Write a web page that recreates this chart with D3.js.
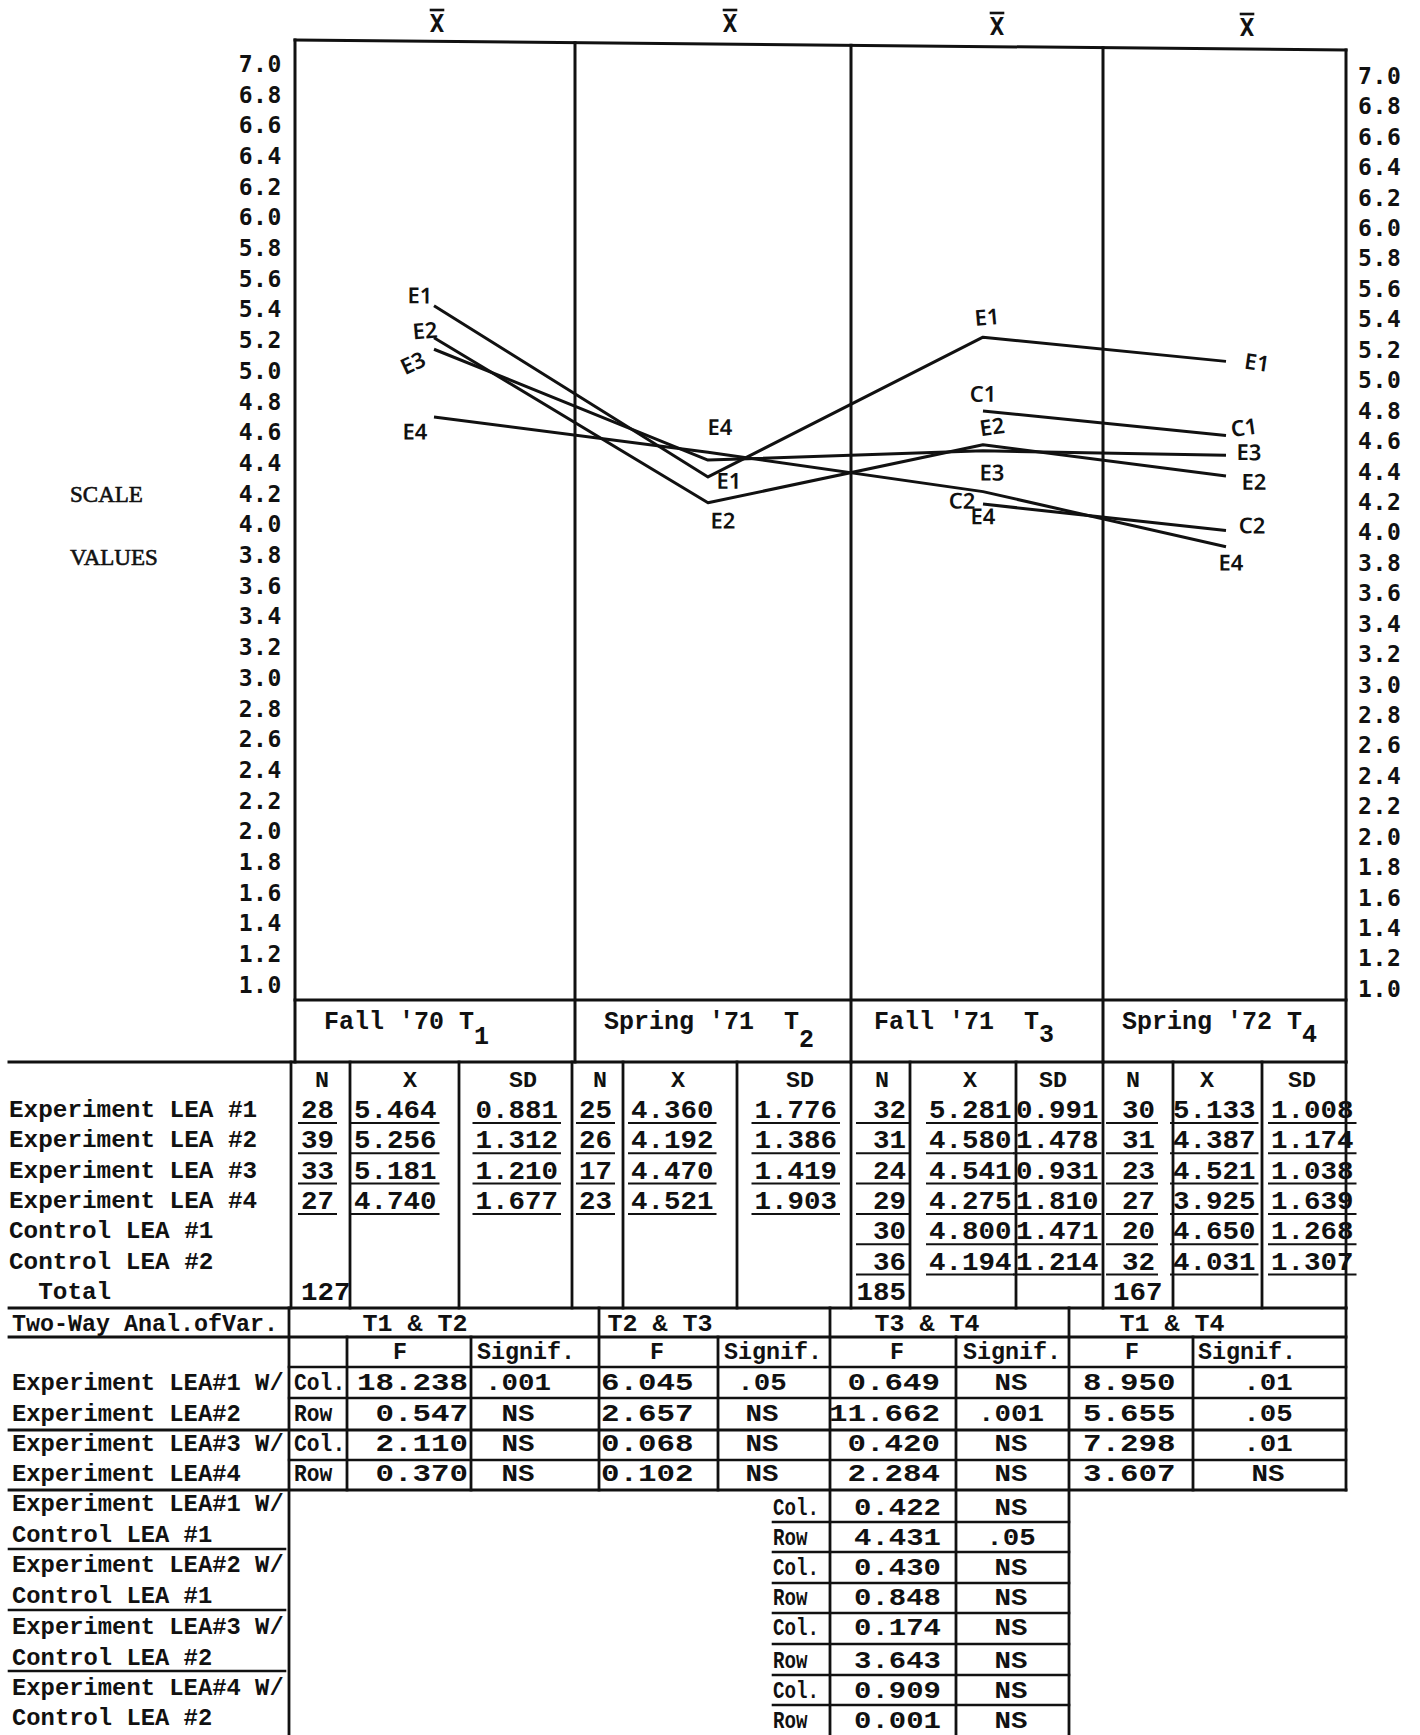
<!DOCTYPE html>
<html>
<head>
<meta charset="utf-8">
<script src="https://cdn.jsdelivr.net/npm/d3@7"></script>
<style>
  html, body { margin: 0; padding: 0; background: #fff; }
  svg { display: block; }
</style>
</head>
<body>
<svg id="chart" width="1420" height="1735"></svg>
<script>
// ---------------- data ----------------
const periods = ["T1", "T2", "T3", "T4"];
const periodNames = ["Fall '70 T", "Spring '71  T", "Fall '71  T", "Spring '72 T"];
const periodSubscripts = ["1", "2", "3", "4"];

const groupLabels = ["Experiment LEA #1", "Experiment LEA #2", "Experiment LEA #3",
                     "Experiment LEA #4", "Control LEA #1", "Control LEA #2"];
const seriesCodes = ["E1", "E2", "E3", "E4", "C1", "C2"];

// N, mean and SD per group (rows) and testing period (columns)
const nValues = [
  [28, 25, 32, 30],
  [39, 26, 31, 31],
  [33, 17, 24, 23],
  [27, 23, 29, 27],
  [null, null, 30, 20],
  [null, null, 36, 32]
];
const meanValues = [
  [5.464, 4.360, 5.281, 5.133],
  [5.256, 4.192, 4.580, 4.387],
  [5.181, 4.470, 4.541, 4.521],
  [4.740, 4.521, 4.275, 3.925],
  [null, null, 4.800, 4.650],
  [null, null, 4.194, 4.031]
];
const sdValues = [
  [0.881, 1.776, 0.991, 1.008],
  [1.312, 1.386, 1.478, 1.174],
  [1.210, 1.419, 0.931, 1.038],
  [1.677, 1.903, 1.810, 1.639],
  [null, null, 1.471, 1.268],
  [null, null, 1.214, 1.307]
];
const totalN = [127, null, 185, 167];
const statHeaders = ["N", "X", "SD"];

const scaleTicks = [7.0, 6.8, 6.6, 6.4, 6.2, 6.0, 5.8, 5.6, 5.4, 5.2, 5.0, 4.8, 4.6, 4.4, 4.2,
                    4.0, 3.8, 3.6, 3.4, 3.2, 3.0, 2.8, 2.6, 2.4, 2.2, 2.0, 1.8, 1.6, 1.4, 1.2, 1.0];

// two-way analysis of variance between testing periods
const anovaPairs = ["T1 & T2", "T2 & T3", "T3 & T4", "T1 & T4"];
const anovaRowLabels = ["Experiment LEA#1 W/", "Experiment LEA#2", "Experiment LEA#3 W/", "Experiment LEA#4"];
const anovaEffects = ["Col.", "Row", "Col.", "Row"];
const anovaF = [
  [18.238, 6.045, 0.649, 8.950],
  [0.547, 2.657, 11.662, 5.655],
  [2.110, 0.068, 0.420, 7.298],
  [0.370, 0.102, 2.284, 3.607]
];
const anovaSig = [
  [".001", ".05", "NS", ".01"],
  ["NS", "NS", ".001", ".05"],
  ["NS", "NS", "NS", ".01"],
  ["NS", "NS", "NS", "NS"]
];

// experiment vs control comparisons (T3 & T4)
const controlRowLabels = ["Experiment LEA#1 W/", "Control LEA #1", "Experiment LEA#2 W/", "Control LEA #1",
                          "Experiment LEA#3 W/", "Control LEA #2", "Experiment LEA#4 W/", "Control LEA #2"];
const controlEffects = ["Col.", "Row", "Col.", "Row", "Col.", "Row", "Col.", "Row"];
const controlF = [0.422, 4.431, 0.430, 0.848, 0.174, 3.643, 0.909, 0.001];
const controlSig = ["NS", ".05", "NS", "NS", "NS", "NS", "NS", "NS"];

// ---------------- drawing ----------------
const INK = "#111";
const MONO = "'Liberation Mono', 'DejaVu Sans Mono', monospace";
const GOTHIC = "'DejaVu Sans Mono', monospace";
const svg = d3.select("#chart");
svg.append("rect").attr("width", 1420).attr("height", 1735).attr("fill", "#fff");

const f3 = d3.format(".3f");
const f1 = d3.format(".1f");

// typewriter text with a fixed character pitch
function typed(g, str, x, y, o) {
  const pitch = o.pitch, w = str.length * pitch;
  const a = o.anchor || "start";
  const x0 = a === "end" ? x - w : a === "middle" ? x - w / 2 : x;
  g.append("text")
    .attr("x", x0).attr("y", y)
    .attr("font-family", o.family || MONO)
    .attr("font-size", o.size)
    .attr("font-weight", o.weight || "bold")
    .attr("fill", INK)
    .attr("xml:space", "preserve")
    .style("white-space", "pre")
    .attr("textLength", w)
    .attr("lengthAdjust", "spacingAndGlyphs")
    .text(str);
  return { x0, w };
}
function rule(g, x1, y1, x2, y2, w) {
  g.append("line").attr("x1", x1).attr("y1", y1).attr("x2", x2).attr("y2", y2)
    .attr("stroke", INK).attr("stroke-width", w || 2.6).attr("stroke-linecap", "square");
}

// scales
const y = d3.scaleLinear().domain([1, 7]).range([990, 69]);
const yRight = d3.scaleLinear().domain([1, 7]).range([989, 76]);
const x = d3.scaleOrdinal().domain(periods).range([434, 708, 983, 1226]);

// ---- plot frame ----
const frame = svg.append("g");
const frameX = [295, 575, 851, 1103, 1346];
const topAt = xx => 40 + (xx - 295) * 10 / 1051;
rule(frame, 295, topAt(295), 1346, topAt(1346), 3);
frameX.forEach(fx => rule(frame, fx, topAt(fx), fx, 1062, 3));
rule(frame, 295, 1000, 1346, 1000, 3);
rule(frame, 9, 1062, 1346, 1062, 3);

// X-bar headings over each period
const xbarPos = [[437, 32], [730, 32], [997, 35], [1247, 36]];
periods.forEach((p, i) => {
  const [bx, by] = xbarPos[i];
  svg.append("text").attr("x", bx).attr("y", by)
    .attr("text-anchor", "middle").attr("font-family", GOTHIC)
    .attr("font-weight", "bold").attr("font-size", 24).attr("fill", INK).text("X");
  rule(svg, bx - 6, by - 22, bx + 6, by - 22, 2.6);
});

// ---- scale value axes ----
const leftAxis = svg.append("g").attr("transform", "translate(282,-5)")
  .call(d3.axisLeft(y).tickValues(scaleTicks).tickSize(0).tickPadding(0).tickFormat(f1));
const rightAxis = svg.append("g").attr("transform", "translate(1358,0)")
  .call(d3.axisRight(yRight).tickValues(scaleTicks).tickSize(0).tickPadding(0).tickFormat(f1));
[leftAxis, rightAxis].forEach(ax => {
  ax.select(".domain").remove();
  ax.selectAll("text").attr("font-family", GOTHIC).attr("font-weight", "bold")
    .attr("font-size", 23).attr("letter-spacing", 0.6).attr("fill", INK);
});

svg.append("text").attr("x", 70).attr("y", 502).attr("font-family", "'Liberation Serif', serif")
  .attr("font-size", 23).attr("fill", INK).attr("stroke", INK).attr("stroke-width", 0.6).text("SCALE");
svg.append("text").attr("x", 70).attr("y", 565).attr("font-family", "'Liberation Serif', serif")
  .attr("font-size", 23).attr("fill", INK).attr("stroke", INK).attr("stroke-width", 0.6).text("VALUES");

// ---- group mean lines (page sits at a slight slant) ----
const slant = 0.006;
const plot = svg.append("g").attr("transform", `matrix(1,${slant},0,1,0,${-slant * 260})`);
const line = d3.line().defined(d => d.v != null).x(d => x(d.p)).y(d => y(d.v));

seriesCodes.forEach((code, i) => {
  const pts = periods.map((p, j) => ({ p, v: meanValues[i][j] }));
  plot.append("path").attr("d", line(pts)).attr("fill", "none")
    .attr("stroke", INK).attr("stroke-width", 3).attr("stroke-linejoin", "round");
});

// hand-lettered tags beside the points: [series, period index, dx, dy, rotation]
const tagNudges = [
  ["E1", 0, -14, -10, 0], ["E2", 0, -9, -7, -5], ["E3", 0, -21, 14, -25], ["E4", 0, -19, 15, 0],
  ["E4", 1, 12, -25, 0], ["E1", 1, 21, 4, 0], ["E2", 1, 15, 18, 0],
  ["E1", 2, 4, -20, -5], ["C1", 2, 0, -17, 0], ["E2", 2, 9, -18, -8], ["E3", 2, 9, 22, 0],
  ["C2", 2, -21, -3, 0], ["E4", 2, 0, 25, 0],
  ["E1", 3, 31, 1, 8], ["C1", 3, 18, -8, -8], ["E3", 3, 23, -3, 0], ["E2", 3, 28, 6, 0],
  ["C2", 3, 26, -5, 0], ["E4", 3, 5, 16, 0]
];
tagNudges.forEach(([code, j, dx, dy, rot]) => {
  const i = seriesCodes.indexOf(code);
  const px = x(periods[j]) + dx, py = y(meanValues[i][j]) + dy;
  plot.append("text").attr("transform", `translate(${px},${py}) rotate(${rot})`)
    .attr("text-anchor", "middle").attr("dy", "0.35em")
    .attr("font-family", "'Noto Sans', 'DejaVu Sans', sans-serif").attr("font-weight", 600)
    .attr("font-size", 22).attr("fill", INK).text(code);
});

// ---- period label row ----
const periodLabelStart = [324, 604, 874, 1122];
const subDrop = [15, 18, 13, 13];
periods.forEach((p, i) => {
  const r = typed(svg, periodNames[i], periodLabelStart[i], 1029, { size: 25, pitch: 15 });
  typed(svg, periodSubscripts[i], r.x0 + r.w, 1029 + subDrop[i], { size: 25, pitch: 15 });
});

// ---- N / mean / SD table ----
const table = svg.append("g");
const tableCols = [291, 350, 459, 572, 623, 737, 851, 910, 1016, 1103, 1173, 1262, 1346];
tableCols.forEach(cx => rule(table, cx, 1062, cx, 1308, 2.8));

const headerCenters = [[322, 410, 523], [600, 678, 800], [882, 970, 1053], [1133, 1207, 1302]];
periods.forEach((p, i) => statHeaders.forEach((h, k) =>
  typed(table, h, headerCenters[i][k], 1087, { size: 22, pitch: 14, anchor: "middle" })));

const cellLayout = [
  { n: [301, "start", 0], m: [354, "start"], s: [558, "end"], t: [301, "start"] },
  { n: [579, "start", 0], m: [631, "start"], s: [837, "end"], t: [579, "start"] },
  { n: [906, "end", 14], m: [929, "start"], s: [1016, "start"], t: [906, "end"] },
  { n: [1122, "start", 13], m: [1173, "start"], s: [1271, "start"], t: [1113, "start"] }
];
const rowBase = i => 1117 + i * 30.3;
function underline(g, r, y0, extraLeft) {
  rule(g, r.x0 - 2 - (extraLeft || 0), y0 + 5, r.x0 + r.w + 2, y0 + 5, 2);
}
groupLabels.forEach((lab, i) => {
  typed(table, lab, 9, rowBase(i), { size: 24, pitch: 14.6 });
  periods.forEach((p, j) => {
    const L = cellLayout[j];
    if (nValues[i][j] == null) return;
    const rn = typed(table, String(nValues[i][j]), L.n[0], rowBase(i) + 1, { size: 26, pitch: 16.5, anchor: L.n[1] });
    underline(table, rn, rowBase(i) + 1, L.n[2]);
    const rm = typed(table, f3(meanValues[i][j]), L.m[0], rowBase(i) + 1, { size: 26, pitch: 16.5, anchor: L.m[1] });
    underline(table, rm, rowBase(i) + 1);
    const rs = typed(table, f3(sdValues[i][j]), L.s[0], rowBase(i) + 1, { size: 26, pitch: 16.5, anchor: L.s[1] });
    underline(table, rs, rowBase(i) + 1);
  });
});
typed(table, "  Total", 9, rowBase(6), { size: 24, pitch: 14.6 });
totalN.forEach((t, j) => {
  if (t == null) return;
  const L = cellLayout[j];
  typed(table, String(t), L.t[0], rowBase(6) + 1, { size: 26, pitch: 16.5, anchor: L.t[1] });
});

// ---- two-way analysis of variance ----
const anova = svg.append("g");
rule(anova, 9, 1308, 1346, 1308, 2.8);
rule(anova, 9, 1337, 1346, 1337, 2.8);
rule(anova, 289, 1367, 1346, 1367, 2.6);
rule(anova, 289, 1398, 1346, 1398, 2.4);
rule(anova, 9, 1430, 1346, 1430, 2.8);
rule(anova, 289, 1460, 1346, 1460, 2.4);
rule(anova, 9, 1490, 1346, 1490, 2.8);

[[289, 1308, 1735], [347, 1337, 1490], [471, 1337, 1490], [599, 1308, 1490], [718, 1337, 1490],
 [830, 1308, 1735], [956, 1337, 1735], [1069, 1308, 1735], [1193, 1337, 1490], [1346, 1308, 1490]]
  .forEach(([vx, y1, y2]) => rule(anova, vx, y1, vx, y2, 2.8));

typed(anova, "Two-Way Anal.ofVar.", 12, 1331, { size: 23, pitch: 14 });
const pairCenters = [415, 660, 927, 1172];
const fCenters = [400, 657, 897, 1132];
const sigCenters = [526, 773, 1012, 1247];
anovaPairs.forEach((pr, k) => {
  typed(anova, pr, pairCenters[k], 1331, { size: 23, pitch: 15, anchor: "middle" });
  typed(anova, "F", fCenters[k], 1359, { size: 23, pitch: 14, anchor: "middle" });
  typed(anova, "Signif.", sigCenters[k], 1359, { size: 23, pitch: 14, anchor: "middle" });
});

const anovaBase = [1390, 1421, 1451, 1481];
const fLayout = [[468, "end"], [601, "start"], [940, "end"], [1083, "start"]];
const sLayout = [518, 762, 1011, 1268];
anovaRowLabels.forEach((lab, i) => {
  typed(anova, lab, 12, anovaBase[i], { size: 23.5, pitch: 14.3 });
  typed(anova, anovaEffects[i], 294, anovaBase[i], { size: 23, pitch: 12.8 });
  anovaPairs.forEach((pr, k) => {
    typed(anova, f3(anovaF[i][k]), fLayout[k][0], anovaBase[i], { size: 24, pitch: 18.5, anchor: fLayout[k][1] });
    typed(anova, anovaSig[i][k], sLayout[k], anovaBase[i], { size: 24, pitch: 16.5, anchor: "middle" });
  });
});

// experiment vs control rows
const ctrlLabelBase = [1511, 1542, 1572, 1603, 1634, 1665, 1695, 1725];
const ctrlCellBase = [1515, 1545, 1575, 1605, 1635, 1668, 1698, 1728];
controlRowLabels.forEach((lab, i) => {
  typed(anova, lab, 12, ctrlLabelBase[i], { size: 23.5, pitch: 14.3 });
  typed(anova, controlEffects[i], 773, ctrlCellBase[i], { size: 23, pitch: 11.5 });
  typed(anova, f3(controlF[i]), 854, ctrlCellBase[i], { size: 24, pitch: 17.4 });
  typed(anova, controlSig[i], 1011, ctrlCellBase[i], { size: 24, pitch: 16.5, anchor: "middle" });
});
[1549, 1610, 1671].forEach(ly => rule(anova, 9, ly, 285, ly, 2.6));
[1522, 1552, 1583, 1613, 1644, 1675, 1705].forEach(ly => rule(anova, 773, ly, 1069, ly, 2.6));
</script>
</body>
</html>
